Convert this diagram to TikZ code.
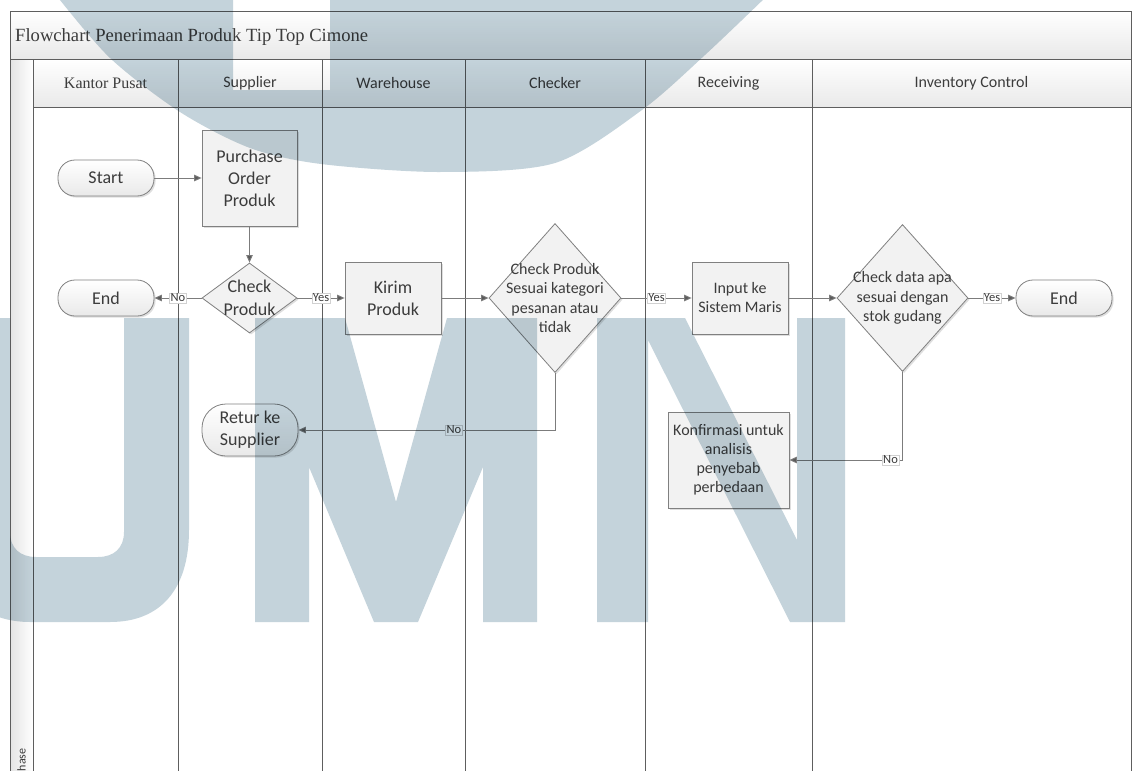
\documentclass[tikz,border=0pt]{standalone}
\usepackage{fontspec}
\setmainfont{Carlito}
\newfontfamily\timesf{Liberation Serif}
\usetikzlibrary{shapes.geometric,arrows.meta,shadows}
\definecolor{lanecol}{HTML}{5E5E5E}
\definecolor{shapecol}{HTML}{808080}
\definecolor{boxfill}{HTML}{F2F2F2}
\definecolor{hdr}{HTML}{E9E9E9}
\definecolor{phs}{HTML}{E4E4E4}
\definecolor{wm}{RGB}{196,211,219}
\definecolor{conncol}{HTML}{7C7C7C}
\definecolor{tipcol}{HTML}{5A5A5A}
\definecolor{txt}{HTML}{3C3C3C}
\tikzset{
  frameline/.style={draw=lanecol,line width=0.9pt},
  laneline/.style={draw=lanecol,line width=0.9pt},
  hdrtxt/.style={text=txt,font=\fontsize{16}{19}\selectfont,inner sep=0pt},
  shad/.style={drop shadow={shadow xshift=1.6pt,shadow yshift=-1.6pt,fill=black,opacity=0.13}},
  proc/.style={shad,draw=shapecol,line width=0.8pt,fill=boxfill,inner sep=0pt,align=center,
    text=txt,font=\fontsize{18}{22}\selectfont},
  procs/.style={proc,font=\fontsize{16}{19}\selectfont},
  term/.style={shad,draw=shapecol,line width=0.8pt,top color=white,bottom color=hdr,
    rounded corners=17pt,minimum width=96pt,minimum height=36pt,inner sep=0pt,align=center,
    text=txt,font=\fontsize{18}{22}\selectfont},
  dec/.style={shad,shape=diamond,draw=shapecol,line width=0.8pt,fill=boxfill,inner sep=0pt},
  dtxt/.style={align=center,text=txt,inner sep=0pt,font=\fontsize{18}{23}\selectfont},
  dtxts/.style={align=center,text=txt,inner sep=0pt,font=\fontsize{16}{19.3}\selectfont},
  conn/.style={draw=conncol,line width=0.9pt,-{Triangle[length=7.5pt,width=6.5pt,fill=tipcol]}},
  lbl/.style={fill=white,draw=black!18,line width=0.4pt,inner sep=1pt,text=txt,
    font=\fontsize{12.5}{13}\selectfont}
}
\begin{document}
\begin{tikzpicture}[x=1pt,y=-1pt]
\useasboundingbox (0,0) rectangle (1141,771);
\fill[white] (0,0) rectangle (1141,771);
% bands
\shade[top color=white,bottom color=hdr] (10,11) rectangle (1131,59);
\shade[top color=white,bottom color=hdr] (33,59) rectangle (1131,107);
\shade[left color=phs,right color=white] (10,59) rectangle (33,780);
% frame and lanes
\draw[frameline] (10,780) -- (10,11) -- (1131,11) -- (1131,780);
\draw[frameline] (10,59) -- (1131,59);
\draw[frameline] (33,107) -- (1131,107);
\foreach \x in {33,178,322,465,645,812} \draw[laneline] (\x,59) -- (\x,780);
% title and headers
\node[anchor=base west,inner sep=0pt,text=txt,font=\timesf\fontsize{18.6}{22}\selectfont] (title) at (15,41) {Flowchart Penerimaan Produk Tip Top Cimone};
\node[hdrtxt,font=\timesf\fontsize{16}{19}\selectfont] (hkp) at (105.5,83) {Kantor Pusat};
\node[hdrtxt] (hsup) at (250,83) {Supplier};
\node[hdrtxt] (hwh) at (393.5,83) {Warehouse};
\node[hdrtxt] (hchk) at (555,83) {Checker};
\node[hdrtxt] (hrec) at (728.5,83) {Receiving};
\node[hdrtxt] (hinv) at (971.5,83) {Inventory Control};
\node[rotate=90,anchor=west,inner sep=0pt,text=txt,font=\fontsize{12}{14}\selectfont] (phase) at (21.5,777.5) {Phase};
% shapes
\node[term] (start) at (106,178) {Start};
\node[proc,minimum width=95pt,minimum height=96pt] (po) at (249.5,178) {Purchase\\Order\\Produk};
\node[dec,minimum width=95pt,minimum height=70pt] (chk1) at (249.5,298) {};
\node[dtxt] (chk1t) at (chk1) {Check\\Produk};
\node[term] (end1) at (106,298) {End};
\node[proc,minimum width=96pt,minimum height=72pt] (kirim) at (393,298) {Kirim\\Produk};
\node[dec,minimum width=132pt,minimum height=149pt] (chk2) at (555,298) {};
\node[dtxts] (chk2t) at (chk2) {Check Produk\\Sesuai kategori\\pesanan atau\\tidak};
\node[procs,minimum width=96pt,minimum height=72pt] (input) at (740,298) {Input ke\\Sistem Maris};
\node[dec,minimum width=131pt,minimum height=147pt] (chk3) at (902.5,298) {};
\node[dtxts] (chk3t) at (chk3) {Check data apa\\sesuai dengan\\stok gudang};
\node[term] (end2) at (1064,298) {End};
\node[term,minimum height=52pt,rounded corners=24pt] (retur) at (250,430) {Retur ke\\Supplier};
\node[procs,minimum width=121pt,minimum height=96pt] (konf) at (728.5,460) {Konfirmasi untuk\\analisis\\penyebab\\perbedaan};
% connectors
\draw[conn] (start) -- (po);
\draw[conn] (po) -- (chk1);
\draw[conn] (chk1) -- node[lbl]{No} (end1);
\draw[conn] (chk1) -- node[lbl]{Yes} (kirim);
\draw[conn] (kirim) -- (chk2);
\draw[conn] (chk2) -- node[lbl]{Yes} (input);
\draw[conn] (input) -- (chk3);
\draw[conn] (chk3) -- node[lbl]{Yes} (end2);
\draw[conn] (chk2.south) |- node[lbl,pos=0.697]{No} (retur.east);
\draw[conn] (chk3.south) |- node[lbl,pos=0.553]{No} (konf.east);
% watermark
\begin{scope}[blend mode=multiply]
\fill[wm,even odd rule] plot[smooth] coordinates {(56,-5) (110,58) (180,112) (250,148) (321,164) (440,172) (555,163) (642,110) (705,55) (768,-5)} -- cycle
  (233,-5) rectangle (330,90);
\fill[wm] (-50,318) -- (-50,540) .. controls (-50,600) and (-10,622) .. (30,622) -- (110,622)
  .. controls (160,622) and (189,590) .. (189,530) -- (189,318) -- (124,318) -- (124,532)
  .. controls (124,548) and (114,557) .. (98,557) -- (36,557) .. controls (20,557) and (10,548) .. (10,532)
  -- (10,318) -- cycle;
\fill[wm] (255,318) -- (345,318) -- (396,502) -- (447,318) -- (537,318) -- (537,622) -- (483,622)
  -- (483,467) -- (418,622) -- (374,622) -- (309,467) -- (309,622) -- (255,622) -- cycle;
\fill[wm] (597,318) -- (685,318) -- (797,540) -- (797,318) -- (845,318) -- (845,622) -- (790,622)
  -- (648,340) -- (648,622) -- (597,622) -- cycle;
\end{scope}
\end{tikzpicture}
\end{document}
